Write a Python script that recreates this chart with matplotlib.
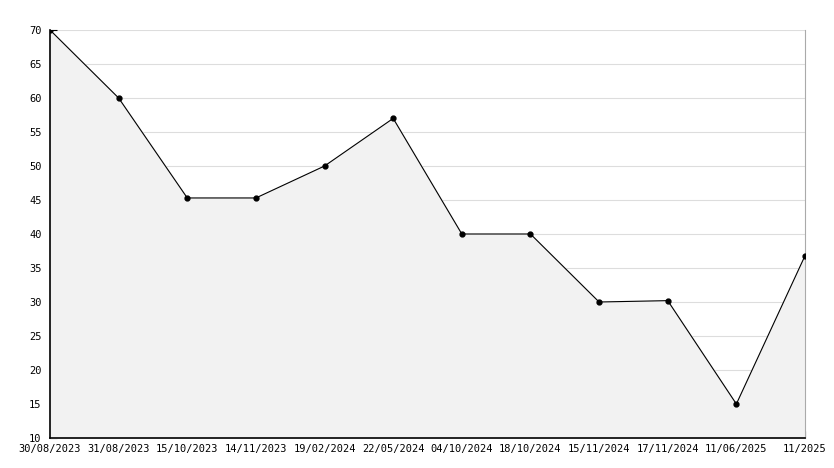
import matplotlib
matplotlib.use("Agg")
import matplotlib.pyplot as plt
from matplotlib.ticker import MultipleLocator

labels = ["30/08/2023","31/08/2023","15/10/2023","14/11/2023","19/02/2024","22/05/2024",
          "04/10/2024","18/10/2024","15/11/2024","17/11/2024","11/06/2025","11/2025"]
values = [70, 60, 45.3, 45.3, 50, 57, 40, 40, 30, 30.2, 15, 36.8]

plt.rcParams['font.family'] = ['DejaVu Sans Mono']
fig = plt.figure(figsize=(8.34, 4.68), dpi=100)
ax = fig.add_axes([50/834, 30/468, 755/834, 408/468])
x = list(range(len(values)))
ax.fill_between(x, values, 10, color='#f2f2f2', zorder=1)
ax.plot(x, values, color='black', lw=0.8, marker='o', ms=3.5, zorder=3)
ax.set_xlim(0, len(values)-1)
ax.set_ylim(10, 70)
ax.set_xticks(x)
ax.set_xticklabels(labels, fontsize=7.5)
ax.yaxis.set_major_locator(MultipleLocator(5))
ax.yaxis.set_minor_locator(MultipleLocator(1))
ax.tick_params(axis='y', which='major', direction='in', length=5, labelsize=7.5, pad=6)
ax.tick_params(axis='y', which='minor', direction='in', length=3)
ax.tick_params(axis='x', direction='in', length=5, labelsize=7.5, pad=4)
ax.grid(axis='y', color='#dddddd', lw=0.8, zorder=0)
ax.set_axisbelow(True)
for s in ['top']:
    ax.spines[s].set_visible(False)
ax.spines['right'].set_color('#aaaaaa')
ax.spines['left'].set_linewidth(1.2)
ax.spines['bottom'].set_linewidth(1.2)
fig.savefig("out.png", dpi=100)
